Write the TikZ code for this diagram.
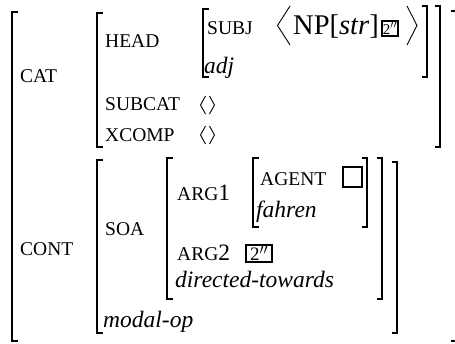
\documentclass[tikz,border=0pt]{standalone}
\usepackage{fontspec}
\setmainfont{Liberation Serif}
\newcommand\myLB[3]{\draw[brk] (#1+5.5,#2) -- (#1,#2) -- (#1,#3) -- (#1+5.5,#3);}
\newcommand\myRB[3]{\draw[brk] (#1-5.5,#2) -- (#1,#2) -- (#1,#3) -- (#1-5.5,#3);}
\begin{document}
\begin{tikzpicture}[x=1pt,y=-1pt,
  lab/.style={inner sep=0pt, anchor=base west, font=\fontsize{19.5}{22}\selectfont},
  val/.style={inner sep=0pt, anchor=base west, font=\fontsize{23.5}{28}\selectfont},
  brk/.style={line width=1.3pt, line join=miter},
  ang/.style={line width=0.9pt, line join=miter},
  tagbox/.style={draw, line width=1.7pt, inner sep=0pt}]
\useasboundingbox (0,0) rectangle (455,343);
\clip (0,0) rectangle (455,343);
% outer brackets
\myLB{12}{12}{341}
\myRB{456}{11}{341}
% CAT value
\myLB{97}{13}{147}
\myRB{440}{6}{147}
% HEAD value
\myLB{203}{9}{77}
\myRB{427}{6}{77}
% CONT value
\myLB{97}{160}{333}
\myRB{397}{162}{333}
% SOA value
\myLB{167}{158}{299}
\myRB{382}{158}{299}
% ARG1 value
\myLB{253}{158}{227}
\myRB{367}{158}{227}
% labels
\node[lab] (cat) at (20,82) {CAT};
\node[lab] (head) at (105,47) {HEAD};
\node[lab] (subj) at (207,34) {SUBJ};
\draw[ang] (290,6) -- (277.5,25.5) -- (290,45);
\node[inner sep=0pt, anchor=base west, font=\fontsize{28.5}{32}\selectfont] (np) at (293,34.5) {NP[\textit{str}]};
\node[tagbox, minimum width=16pt, minimum height=15pt] (t1) at (390,28.5) {\fontsize{15}{15}\selectfont 2$''$};
\draw[ang] (407,6) -- (417,25.5) -- (407,45);
\node[val] (adj) at (204,73) {\textit{adj}};
\node[lab] (subcat) at (105,110) {SUBCAT};
\draw[ang] (205.5,96) -- (200.5,105) -- (205.5,114);
\draw[ang] (209.5,96) -- (214.5,105) -- (209.5,114);
\node[lab] (xcomp) at (105,141) {XCOMP};
\draw[ang] (205.5,126) -- (200.5,135) -- (205.5,144);
\draw[ang] (209.5,126) -- (214.5,135) -- (209.5,144);
\node[lab] (cont) at (20,255) {CONT};
\node[lab] (soa) at (105,235) {SOA};
\node[lab] (arg1) at (177,200) {ARG\fontsize{23.5}{28}\selectfont 1};
\node[lab] (agent) at (260,185) {AGENT};
\node[tagbox, minimum width=19pt, minimum height=20pt] (t0) at (352.5,177) {};
\node[val] (fahren) at (256,217) {\textit{fahren}};
\node[lab] (arg2) at (177,260) {ARG\fontsize{23.5}{28}\selectfont 2};
\node[tagbox, minimum width=26pt, minimum height=17pt] (t2) at (259,253.5) {\fontsize{19}{19}\selectfont 2$''$};
\node[val] (dt) at (175,287) {\textit{directed-towards}};
\node[val] (mop) at (103,327) {\textit{modal-op}};
\end{tikzpicture}
\end{document}
